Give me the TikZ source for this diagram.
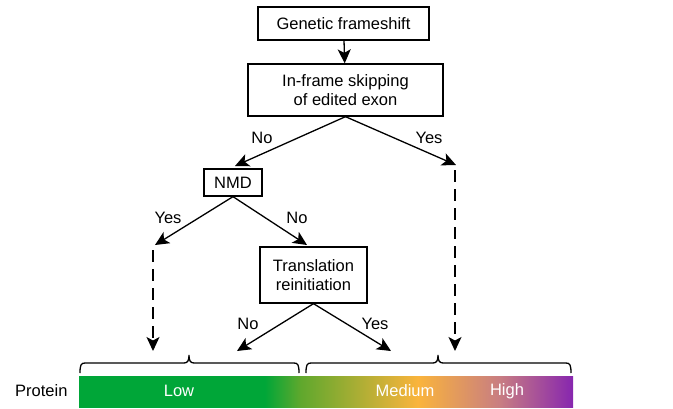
\documentclass[tikz,border=0pt]{standalone}
\usepackage{fontspec}
\setmainfont{Liberation Sans}
\usetikzlibrary{arrows.meta}
\definecolor{lowgreen}{RGB}{0,166,56}
\definecolor{midgreen}{RGB}{95,168,45}
\definecolor{medorange}{RGB}{250,180,60}
\definecolor{highpink}{RGB}{200,125,130}
\definecolor{highpurple}{RGB}{135,38,175}
\pgfdeclarehorizontalshading{proteinbar}{100bp}{color(0bp)=(lowgreen); color(25bp)=(lowgreen); color(43.8bp)=(lowgreen); color(47.4bp)=(midgreen); color(59.3bp)=(medorange); color(67.6bp)=(highpink); color(75bp)=(highpurple); color(100bp)=(highpurple)}
% flat brace: left end, tip, right end
\newcommand{\levelbrace}[3]{%
    \draw[braceline] (#1,373) .. controls (#1,365) and (#1+1,363) .. (#1+5,363) -- (#2-5,363)
        .. controls (#2-1,363) and (#2,360) .. (#2,355) .. controls (#2,360) and (#2+1,363) .. (#2+5,363)
        -- (#3-5,363) .. controls (#3-1,363) and (#3,365) .. (#3,373);}
\begin{document}
\begin{tikzpicture}[x=1pt,y=-1pt,
    box/.style={draw, line width=1.3pt, align=center, inner sep=0pt, font=\fontsize{16.5}{18.5}\selectfont},
    arr/.style={line width=1.3pt, -{Stealth[length=14pt,width=13pt,inset=3.5pt]}},
    dasharr/.style={arr, dash pattern=on 12pt off 7pt},
    lbl/.style={font=\fontsize{16.5}{18.5}\selectfont},
    braceline/.style={line width=1.3pt}]
        \useasboundingbox (0,0) rectangle (673,408);
        % boxes
        \node[box, minimum width=171pt, minimum height=33pt] (frameshift) at (343.5,23.5) {Genetic frameshift};
        \node[box, minimum width=195pt, minimum height=52pt] (skipping) at (345.5,90) {In-frame skipping\\of edited exon};
        \node[box, minimum width=58pt, minimum height=27pt] (nmd) at (233,182.5) {NMD};
        \node[box, minimum width=107pt, minimum height=56pt] (reinit) at (313.5,275) {Translation\\reinitiation};
        % free ends
        \coordinate (nmdTip) at (235,166);
        \coordinate (skipYes) at (456,165);
        \coordinate (highTop) at (455,170);
        \coordinate (highEnd) at (455,351);
        \coordinate (nmdYes) at (155,245);
        \coordinate (lowTop) at (153,250);
        \coordinate (lowEnd) at (153,351);
        \coordinate (reinitTip) at (307,245);
        \coordinate (reinitNo) at (237,351);
        \coordinate (reinitYes) at (391,351);
        % connectors
        \draw[arr] (frameshift) -- (skipping);
        \draw[arr] (skipping.south) -- (nmdTip);
        \draw[arr] (skipping.south) -- (skipYes);
        \draw[dasharr] (highTop) -- (highEnd);
        \draw[arr] (nmd.south) -- (nmdYes);
        \draw[dasharr] (lowTop) -- (lowEnd);
        \draw[arr] (nmd.south) -- (reinitTip);
        \draw[arr] (reinit.south) -- (reinitNo);
        \draw[arr] (reinit.south) -- (reinitYes);
        % labels
        \node[lbl] (noA) at (262,138) {No};
        \node[lbl] (yesA) at (429,138) {Yes};
        \node[lbl] (yesB) at (168,218) {Yes};
        \node[lbl] (noB) at (297,218) {No};
        \node[lbl] (noC) at (248,324) {No};
        \node[lbl] (yesC) at (375,324) {Yes};
        % braces
        \levelbrace{80}{189}{299}
        \levelbrace{306}{438}{571}
        % protein bar
        \shade[shading=proteinbar] (79,376) rectangle (573,407);
        \node[lbl, anchor=east] (protein) at (71,391) {Protein};
        \node[lbl, text=white] (low) at (179,391) {Low};
        \node[lbl, text=white] (medium) at (405,391) {Medium};
        \node[lbl, text=white] (high) at (507,391) {High};
    \end{tikzpicture}
\end{document}
